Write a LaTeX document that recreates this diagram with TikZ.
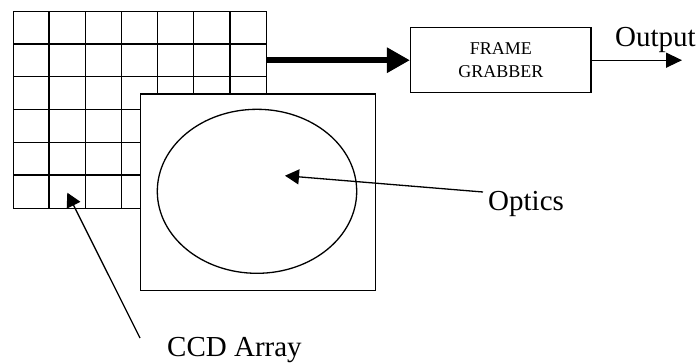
\documentclass[tikz,border=0pt]{standalone}
\usepackage{fontspec}
\setmainfont{Liberation Serif}
\usetikzlibrary{arrows.meta,shapes.geometric}
\begin{document}
\begin{tikzpicture}[x=1pt,y=-1pt,
  box/.style={draw,line width=1.4pt,fill=white,inner sep=0pt},
  gridline/.style={line width=1.4pt},
  thinarrow/.style={line width=1.3pt,-{Triangle[length=14pt,width=15pt]}},
  big/.style={font=\fontsize{29}{34}\selectfont,inner sep=0pt}
  ]
\useasboundingbox (0,0) rectangle (700,362);
% CCD array grid
\node[draw,line width=1.4pt,inner sep=0pt,minimum width=253pt,minimum height=197pt,anchor=north west] (ccd) at (13,11) {};
\foreach \i in {1,...,6} \draw[gridline] ({13+\i*36.1429},11) -- ({13+\i*36.1429},208);
\foreach \j in {1,...,5} \draw[gridline] (13,{11+\j*32.8333}) -- (266,{11+\j*32.8333});
% optics box
\node[box,minimum width=235.5pt,minimum height=196.7pt,anchor=north west] (optbox) at (139.5,93.3) {};
\node[draw,ellipse,line width=1.3pt,inner sep=0pt,minimum width=199.4pt,minimum height=164pt] (lens) at (257,191.3) {};
% frame grabber
\node[box,minimum width=180.3pt,minimum height=65pt,align=center,font=\fontsize{18}{22.7}\selectfont] (fg) at (500.8,60.2) {FRAME\\GRABBER};
\draw[line width=6.5pt,-{Triangle[length=23pt,width=24pt]}] (ccd.east |- fg.west) -- (fg.west);
\coordinate (outend) at (682,60.2);
\draw[line width=1.3pt,-{Triangle[length=16pt,width=15pt]}] (fg.east) -- (outend);
\node[big,anchor=base west] (out) at (615,46.7) {Output};
% optics label
\node[big,anchor=base west] (optics) at (488,210.5) {Optics};
\coordinate (optail) at (483,192);
\coordinate (optip) at (285,175.7);
\draw[thinarrow] (optail) -- (optip);
% CCD label
\node[big,anchor=base west] (ccdlabel) at (167,356) {CCD Array};
\coordinate (ccdtail) at (140,338);
\coordinate (ccdtip) at (67.3,192.7);
\draw[thinarrow] (ccdtail) -- (ccdtip);
\end{tikzpicture}
\end{document}
